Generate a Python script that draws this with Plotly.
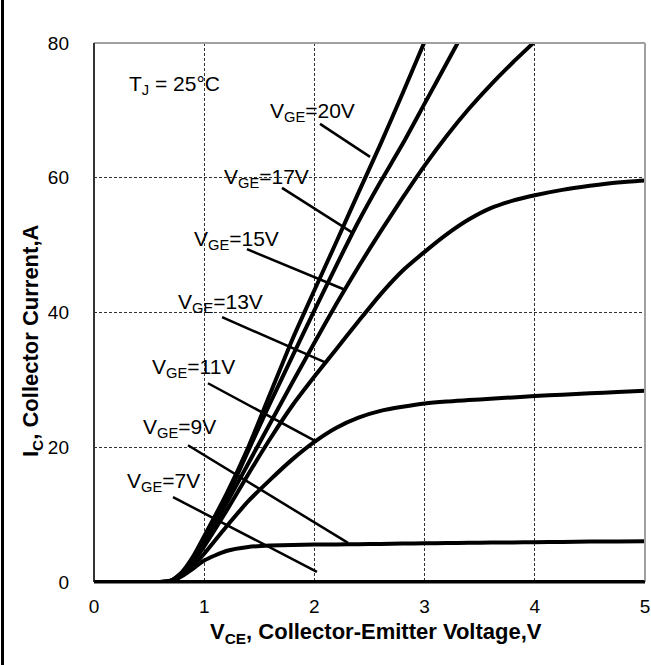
import plotly.graph_objects as go

# ---------------- data ----------------
vce = [0, 0.6, 0.7, 0.8, 0.9, 1.0, 1.2, 1.4, 1.6, 1.8, 2.0, 2.2, 2.4, 2.6, 2.8,
       3.0, 3.2, 3.4, 3.6, 3.8, 4.0, 4.25, 4.5, 4.75, 5.0]

ic_20v = [0, 0, 0.2, 1.5, 3.8, 6.8, 13.0, 20.0, 28.0, 36.0, 43.3, 50.5, 57.8, 65.0, 72.5,
          80.2, 88.0]
ic_17v = [0, 0, 0.2, 1.4, 3.5, 6.3, 12.3, 19.5, 26.6, 33.5, 40.3, 47.0, 53.5, 59.4, 65.0,
          71.0, 77.0, 83.0]
ic_15v = [0, 0, 0.2, 1.3, 3.2, 5.8, 11.6, 17.6, 23.6, 29.6, 35.5, 41.3, 46.8, 52.0, 57.0,
          61.8, 66.2, 70.2, 73.8, 77.1, 80.2, 84.0]
ic_13v = [0, 0, 0.2, 1.2, 3.0, 5.3, 10.5, 16.0, 21.3, 26.2, 30.5, 34.6, 38.7, 42.7, 46.2,
          49.0, 51.6, 53.8, 55.5, 56.6, 57.4, 58.2, 58.8, 59.3, 59.6]
ic_11v = [0, 0, 0.1, 1.0, 2.4, 4.2, 8.2, 12.0, 15.2, 18.2, 20.8, 22.9, 24.4, 25.4, 26.0,
          26.5, 26.8, 27.0, 27.2, 27.4, 27.6, 27.8, 28.0, 28.2, 28.4]
ic_9v = [0, 0, 0.1, 0.9, 2.0, 3.2, 4.6, 5.2, 5.4, 5.5, 5.55, 5.58, 5.62, 5.65, 5.7,
         5.75, 5.78, 5.82, 5.85, 5.88, 5.9, 5.95, 6.0, 6.02, 6.05]
ic_7v = [0] * 25

curve_names = ["VGE=20V", "VGE=17V", "VGE=15V", "VGE=13V", "VGE=11V", "VGE=9V", "VGE=7V"]
curve_values = [ic_20v, ic_17v, ic_15v, ic_13v, ic_11v, ic_9v, ic_7v]

label_texts = ["V<sub>GE</sub>=20V", "V<sub>GE</sub>=17V", "V<sub>GE</sub>=15V",
               "V<sub>GE</sub>=13V", "V<sub>GE</sub>=11V", "V<sub>GE</sub>=9V",
               "V<sub>GE</sub>=7V"]
x_ticks = [0, 1, 2, 3, 4, 5]
y_ticks = [0, 20, 40, 60, 80]

# label text centres and pointer lines (data space)
label_x = [1.987, 1.561, 1.289, 1.152, 0.907, 0.780, 0.635]
label_y = [69.8, 60.0, 50.8, 41.4, 31.8, 22.9, 14.8]
ptr_x0 = [2.051, 1.706, 1.388, 1.162, 1.034, 0.853, 0.717]
ptr_y0 = [68.0, 58.5, 49.4, 39.3, 29.5, 20.3, 12.6]
ptr_x1 = [2.505, 2.341, 2.287, 2.114, 2.023, 2.305, 2.023]
ptr_y1 = [63.1, 51.9, 43.3, 32.5, 20.8, 5.8, 1.5]

# ---------------- figure ----------------
W, H = 651, 665
ML, MR, MT, MB = 94, 6, 43, 83
FONT = "Liberation Sans, Arial, sans-serif"

fig = go.Figure()

for name, vals in zip(curve_names, curve_values):
    fig.add_trace(go.Scatter(
        x=vce[:len(vals)], y=vals, mode="lines", name=name,
        line=dict(color="black", width=4, shape="spline", smoothing=0.6),
        showlegend=False, hoverinfo="skip"))

for x0, y0, x1, y1 in zip(ptr_x0, ptr_y0, ptr_x1, ptr_y1):
    fig.add_trace(go.Scatter(
        x=[x0, x1], y=[y0, y1], mode="lines",
        line=dict(color="black", width=2.5), showlegend=False, hoverinfo="skip"))

annotations = []
for t, x, y in zip(label_texts, label_x, label_y):
    annotations.append(dict(x=x, y=y, xref="x", yref="y", text=t, showarrow=False,
                            font=dict(family=FONT, size=21, color="black"),
                            xanchor="center", yanchor="middle"))
annotations.append(dict(x=0.726, y=73.8, xref="x", yref="y",
                        text="T<sub>J</sub> = 25°C", showarrow=False,
                        font=dict(family=FONT, size=21, color="black"),
                        xanchor="center", yanchor="middle"))
# axis titles
pw, ph = W - ML - MR, H - MT - MB
annotations.append(dict(x=(376 - ML) / pw, y=(582 - 633) / ph, xref="paper", yref="paper",
                        text="<b>V<sub>CE</sub>, Collector-Emitter Voltage,V</b>",
                        showarrow=False, font=dict(family=FONT, size=22, color="black"),
                        xanchor="center", yanchor="middle"))
annotations.append(dict(x=(32 - ML) / pw, y=(582 - 341) / ph, xref="paper", yref="paper",
                        text="<b>I<sub>C</sub>, Collector Current,A</b>", textangle=-90,
                        showarrow=False, font=dict(family=FONT, size=22, color="black"),
                        xanchor="center", yanchor="middle"))

shapes = [
    # outer left border of the image
    dict(type="line", xref="paper", yref="paper", x0=(2.5 - ML) / pw, x1=(2.5 - ML) / pw,
         y0=(582 + 10) / ph, y1=(582 - H - 10) / ph, line=dict(color="black", width=3)),
    # plot frame
    dict(type="line", xref="paper", yref="paper", x0=0, x1=1, y0=1, y1=1,
         line=dict(color="#a0a0a0", width=2)),
    dict(type="line", xref="paper", yref="paper", x0=1, x1=1, y0=0, y1=1,
         line=dict(color="#a0a0a0", width=2)),
    dict(type="line", xref="paper", yref="paper", x0=0, x1=0, y0=0, y1=1,
         line=dict(color="#333333", width=2)),
    dict(type="line", xref="paper", yref="paper", x0=0, x1=1, y0=0, y1=0,
         line=dict(color="black", width=3)),
]

fig.update_layout(
    width=W, height=H, autosize=False,
    margin=dict(l=ML, r=MR, t=MT, b=MB, pad=0, autoexpand=False),
    paper_bgcolor="white", plot_bgcolor="white",
    font=dict(family=FONT, size=19, color="black"),
    annotations=annotations, shapes=shapes,
    xaxis=dict(range=[0, 5], tickvals=x_ticks, ticktext=[str(v) for v in x_ticks],
               showgrid=True, gridcolor="#333333", gridwidth=1, griddash="3px,2px",
               zeroline=False, showline=False, ticks="", ticklabelstandoff=11,
               automargin=False,
               tickfont=dict(family=FONT, size=19, color="black"), fixedrange=True),
    yaxis=dict(range=[0, 80], tickvals=y_ticks, ticktext=[str(v) for v in y_ticks],
               showgrid=True, gridcolor="#333333", gridwidth=1, griddash="3px,2px",
               zeroline=False, showline=False, ticks="", ticklabelstandoff=24,
               automargin=False,
               tickfont=dict(family=FONT, size=19, color="black"), fixedrange=True),
)

fig.write_html("out.html")
